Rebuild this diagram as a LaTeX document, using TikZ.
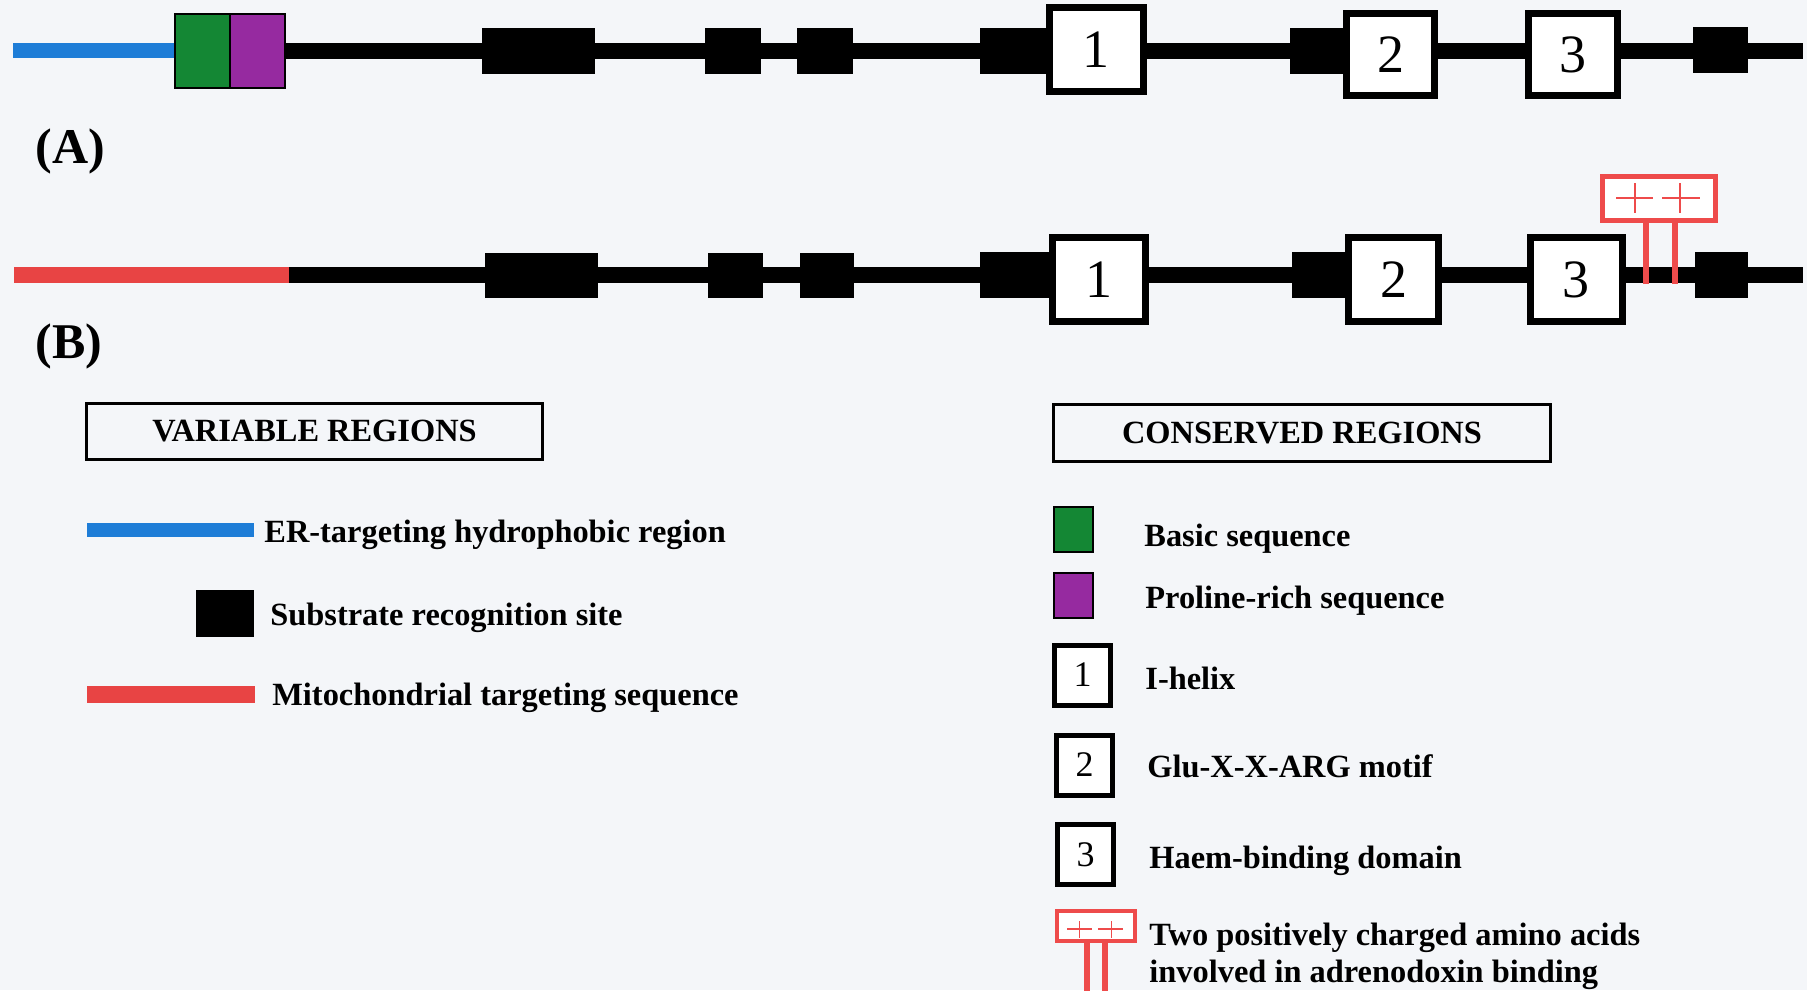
\documentclass[tikz,border=0pt]{standalone}
\usepackage{fontspec}
\setmainfont{Liberation Serif}
\definecolor{bgc}{RGB}{244,246,249}
\definecolor{erblue}{RGB}{30,125,215}
\definecolor{mitred}{RGB}{232,68,68}
\definecolor{basicgreen}{RGB}{20,135,52}
\definecolor{propurple}{RGB}{150,42,160}
\definecolor{adxred}{RGB}{238,75,75}
\tikzset{
  blk/.style={fill=black, draw=none},
  numbox/.style={draw=black, fill=white, line width=3.5pt, inner sep=0pt,
    font=\fontsize{27pt}{27pt}\selectfont},
  lnumbox/.style={draw=black, fill=white, line width=2.5pt, inner sep=0pt,
    minimum width=28pt, minimum height=30pt, font=\fontsize{18pt}{18pt}\selectfont},
  legtxt/.style={anchor=base west, inner sep=0pt, font=\fontsize{16.2pt}{19pt}\selectfont\bfseries},
  titlebox/.style={draw=black, line width=1.5pt, inner sep=0pt,
    font=\fontsize{16.2pt}{19pt}\selectfont\bfseries},
  panel/.style={anchor=base west, inner sep=0pt, font=\fontsize{25pt}{25pt}\selectfont\bfseries},
  adx/.style={draw=adxred, line width=2.5pt},
  adxstem/.style={draw=adxred, line width=3pt},
  adxplus/.style={draw=adxred, line width=1pt},
}
\begin{document}
\begin{tikzpicture}[x=0.5pt,y=-0.5pt]
\fill[bgc] (0,0) rectangle (1807,990);
\useasboundingbox (0,0) rectangle (1807,990);

% ---------------- Row A ----------------
\fill[black] (285,43) rectangle (1803,59);
\fill[erblue] (13,43) rectangle (176,58);
\draw[fill=basicgreen, line width=1pt] (175,14) rectangle (230,88);
\draw[fill=propurple, line width=1pt] (230,14) rectangle (285,88);
\fill[blk] (482,28) rectangle (595,74);
\fill[blk] (705,28) rectangle (761,74);
\fill[blk] (797,28) rectangle (853,74);
\fill[blk] (980,28) rectangle (1051,74);
\fill[blk] (1290,28) rectangle (1344,74);
\fill[blk] (1693,27) rectangle (1748,73);
\node[numbox, minimum width=47pt, minimum height=42pt] (a1) at (1096,50) {1};
\node[numbox, minimum width=44pt, minimum height=41pt] (a2) at (1390.5,54.5) {2};
\node[numbox, minimum width=44.5pt, minimum height=41pt] (a3) at (1573,54.5) {3};
\node[panel] (labA) at (35,163) {(A)};

% ---------------- Row B ----------------
\fill[black] (288,267) rectangle (1803,283);
\fill[mitred] (14,267) rectangle (289,283);
\fill[blk] (485,253) rectangle (598,298);
\fill[blk] (708,253) rectangle (763,298);
\fill[blk] (800,253) rectangle (854,298);
\fill[blk] (980,252) rectangle (1051,298);
\fill[blk] (1292,252) rectangle (1350,298);
\fill[blk] (1695,252) rectangle (1748,298);
\node[numbox, minimum width=46.5pt, minimum height=42pt] (b1) at (1099,279.5) {1};
\node[numbox, minimum width=45pt, minimum height=42pt] (b2) at (1393.5,279.5) {2};
\node[numbox, minimum width=46pt, minimum height=42pt] (b3) at (1576,279.5) {3};
% adrenodoxin-binding marker
\draw[adxstem] (1646,222) -- (1646,284);
\draw[adxstem] (1675,222) -- (1675,284);
\draw[adx, fill=white] (1602.5,176.5) rectangle (1715.5,220.5);
\draw[adxplus] (1616,198) -- (1653,198) (1634.5,183) -- (1634.5,213);
\draw[adxplus] (1662,198) -- (1700,198) (1680,183) -- (1680,213);
\node[panel] (labB) at (35,358) {(B)};

% ---------------- Legend: variable ----------------
\node[titlebox, minimum width=228pt, minimum height=28pt] (vartitle) at (314.5,431.5) {VARIABLE REGIONS};
\fill[erblue] (87,523) rectangle (254,537);
\node[legtxt] (ertxt) at (264,542) {ER-targeting hydrophobic region};
\fill[blk] (196,590) rectangle (254,637);
\node[legtxt] (srstxt) at (270,625) {Substrate recognition site};
\fill[mitred] (87,686) rectangle (255,703);
\node[legtxt] (mittxt) at (272,705) {Mitochondrial targeting sequence};

% ---------------- Legend: conserved ----------------
\node[titlebox, minimum width=248.5pt, minimum height=28.5pt] (constitle) at (1302,433) {CONSERVED REGIONS};
\draw[fill=basicgreen, line width=1pt] (1054,507) rectangle (1093,552);
\node[legtxt] (bastxt) at (1144,546) {Basic sequence};
\draw[fill=propurple, line width=1pt] (1054,573) rectangle (1093,618);
\node[legtxt] (protxt) at (1145,608) {Proline-rich sequence};
\node[lnumbox] (l1) at (1082.5,675) {1};
\node[legtxt] (ihtxt) at (1145,689) {I-helix};
\node[lnumbox] (l2) at (1084.5,765) {2};
\node[legtxt] (glutxt) at (1147,777) {Glu-X-X-ARG motif};
\node[lnumbox] (l3) at (1085.5,854.5) {3};
\node[legtxt] (haemtxt) at (1149,868) {Haem-binding domain};
% legend adrenodoxin marker
\draw[adxred, line width=3pt] (1087,942) -- (1087,992);
\draw[adxred, line width=3pt] (1105,942) -- (1105,992);
\draw[adxred, line width=2pt, fill=white] (1057,911) rectangle (1135,941);
\draw[adxplus, line width=0.8pt] (1067,929) -- (1092,929) (1079.5,921) -- (1079.5,938);
\draw[adxplus, line width=0.8pt] (1098,929) -- (1123,929) (1111.5,921) -- (1111.5,938);
\node[legtxt] (adxtxt1) at (1149,945) {Two positively charged amino acids};
\node[legtxt] (adxtxt2) at (1149,982) {involved in adrenodoxin binding};
\end{tikzpicture}
\end{document}
